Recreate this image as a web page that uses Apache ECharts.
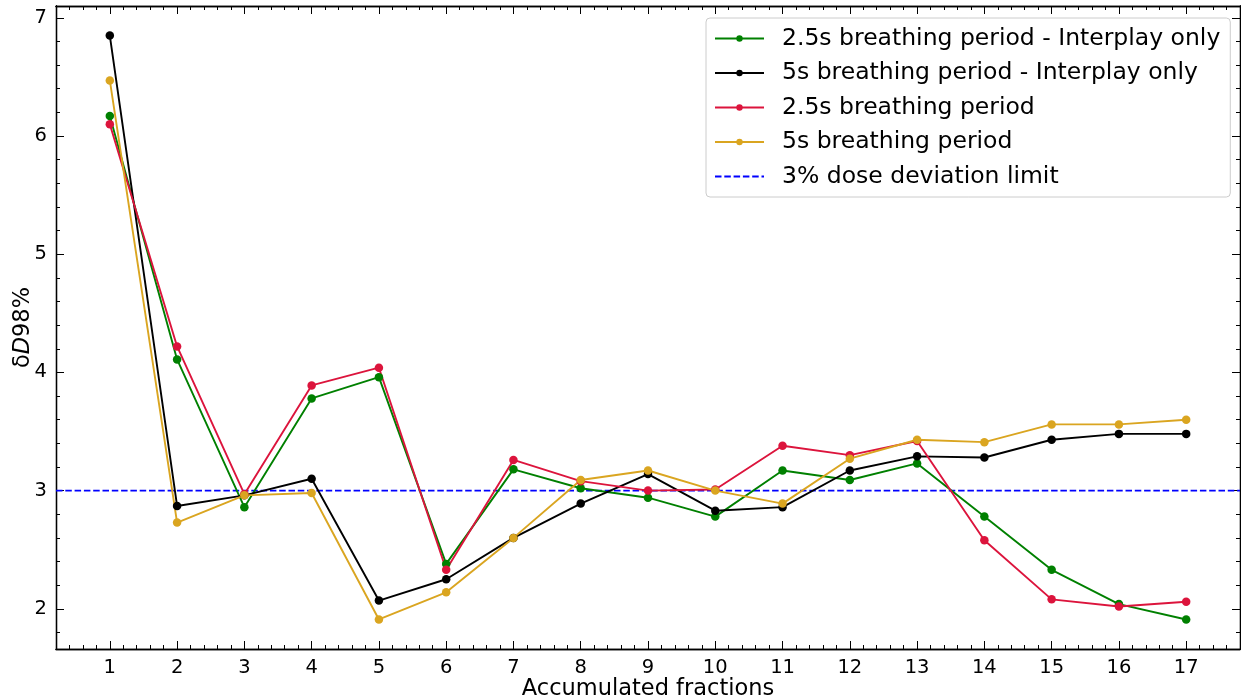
<!DOCTYPE html>
<html>
<head>
<meta charset="utf-8">
<script src="https://cdn.jsdelivr.net/npm/echarts@6/dist/echarts.min.js"></script>
<style>
  html, body { margin: 0; padding: 0; background: #fff; }
  #chart { width: 1241px; height: 700px; }
</style>
</head>
<body>
<div id="chart"></div>
<script>
// Accumulated fraction index (x values)
const fractions = [1, 2, 3, 4, 5, 6, 7, 8, 9, 10, 11, 12, 13, 14, 15, 16, 17];

// δD98% per accumulated fraction
const interplay25 = [6.17, 4.11, 2.86, 3.78, 3.96, 2.38, 3.18, 3.02, 2.94, 2.78, 3.17, 3.09, 3.23, 2.78, 2.33, 2.04, 1.91];
const interplay5  = [6.85, 2.87, 2.96, 3.10, 2.07, 2.25, 2.60, 2.89, 3.14, 2.83, 2.86, 3.17, 3.29, 3.28, 3.43, 3.48, 3.48];
const period25    = [6.10, 4.22, 2.97, 3.89, 4.04, 2.33, 3.26, 3.08, 3.00, 3.01, 3.38, 3.30, 3.42, 2.58, 2.08, 2.02, 2.06];
const period5     = [6.47, 2.73, 2.96, 2.98, 1.91, 2.14, 2.60, 3.09, 3.17, 3.00, 2.89, 3.27, 3.43, 3.41, 3.56, 3.56, 3.60];

const limitValue = 3;

const seriesNames = [
  '2.5s breathing period - Interplay only',
  '5s breathing period - Interplay only',
  '2.5s breathing period',
  '5s breathing period',
  '3% dose deviation limit'
];

// Axis ranges and tick positions
const xRange = [0.2, 17.8];
const yRange = [1.66, 7.1];
const xMajorTicks = [1, 2, 3, 4, 5, 6, 7, 8, 9, 10, 11, 12, 13, 14, 15, 16, 17];
const yMajorTicks = [2, 3, 4, 5, 6, 7];

function minorTicks(range, step) {
  const out = [];
  const start = Math.ceil(range[0] / step - 1e-9);
  for (let k = start; k * step <= range[1] + 1e-9; k++) {
    const v = +(k * step).toFixed(4);
    if (Math.abs(v - Math.round(v)) > 1e-6) out.push(v);
  }
  return out;
}
const xMinorTicks = minorTicks(xRange, 0.2);
const yMinorTicks = minorTicks(yRange, 0.2);

const FONT = 'DejaVu Sans';

function pairs(values) {
  return fractions.map((f, i) => [f, values[i]]);
}

function lineSeries(name, values, color) {
  return {
    name: name,
    type: 'line',
    data: pairs(values),
    xAxisIndex: 0,
    yAxisIndex: 0,
    symbol: 'circle',
    symbolSize: 8.5,
    lineStyle: { color: color, width: 1.9 },
    itemStyle: { color: color },
    emphasis: { disabled: true },
    animation: false
  };
}

// Builds one x or y axis layer (major/minor ticks on one side)
function tickAxis(pos, range, ticks, len, showLabel, extra) {
  const ax = {
    type: 'value',
    position: pos,
    min: range[0],
    max: range[1],
    splitLine: { show: false },
    axisLine: { show: true, onZero: false, lineStyle: { color: '#000', width: 1.3 } },
    axisTick: { show: true, inside: true, length: len, customValues: ticks, lineStyle: { color: '#000', width: 1 } },
    axisLabel: showLabel
      ? { show: true, customValues: ticks, color: '#000', fontFamily: FONT, fontSize: 19.5, margin: 9 }
      : { show: false }
  };
  return Object.assign(ax, extra || {});
}

const chart = echarts.init(document.getElementById('chart'), null, { renderer: 'canvas' });

const option = {
  backgroundColor: '#fff',
  animation: false,
  grid: { left: 56, right: 1, top: 6, bottom: 51, containLabel: false, outerBoundsMode: 'none' },
  xAxis: [
    tickAxis('bottom', xRange, xMajorTicks, 8, true, {
      name: 'Accumulated fractions',
      nameLocation: 'middle',
      nameGap: 29,
      nameMoveOverlap: false,
      nameTextStyle: { color: '#000', fontFamily: FONT, fontSize: 22.5 }
    }),
    tickAxis('bottom', xRange, xMinorTicks, 4, false),
    tickAxis('top', xRange, xMajorTicks, 8, false),
    tickAxis('top', xRange, xMinorTicks, 4, false)
  ],
  yAxis: [
    tickAxis('left', yRange, yMajorTicks, 8, true, {
      name: '{n|δ}{i|D}{n|98%}',
      nameLocation: 'middle',
      nameGap: 21,
      nameMoveOverlap: false,
      nameRotate: 90,
      nameTextStyle: {
        rich: {
          n: { fontFamily: FONT, fontSize: 22.5, color: '#000' },
          i: { fontFamily: FONT, fontSize: 22.5, fontStyle: 'italic', color: '#000' }
        }
      }
    }),
    tickAxis('left', yRange, yMinorTicks, 4, false),
    tickAxis('right', yRange, yMajorTicks, 8, false),
    tickAxis('right', yRange, yMinorTicks, 4, false)
  ],
  legend: {
    left: 706,
    top: 18,
    orient: 'vertical',
    padding: [8, 10, 8, 8],
    itemWidth: 49,
    itemHeight: 8,
    itemGap: 9.5,
    backgroundColor: 'rgba(255,255,255,0.85)',
    borderColor: '#cccccc',
    borderWidth: 1,
    borderRadius: 4,
    selectedMode: false,
    textStyle: { fontFamily: FONT, fontSize: 23.5, color: '#000', lineHeight: 25, padding: [0, 0, 0, 13] },
    data: [
      seriesNames[0],
      seriesNames[1],
      seriesNames[2],
      seriesNames[3],
      { name: seriesNames[4], itemStyle: { opacity: 0 } }
    ]
  },
  series: [
    lineSeries(seriesNames[0], interplay25, '#008000'),
    lineSeries(seriesNames[1], interplay5, '#000000'),
    lineSeries(seriesNames[2], period25, '#dc143c'),
    lineSeries(seriesNames[3], period5, '#daa520'),
    {
      name: seriesNames[4],
      type: 'line',
      data: [[xRange[0], limitValue], [xRange[1], limitValue]],
      symbol: 'none',
      lineStyle: { color: '#0000ff', width: 1.9, type: [6.5, 2.8] },
      itemStyle: { color: '#0000ff' },
      z: 1,
      emphasis: { disabled: true },
      animation: false
    }
  ]
};

chart.setOption(option);
</script>
</body>
</html>
